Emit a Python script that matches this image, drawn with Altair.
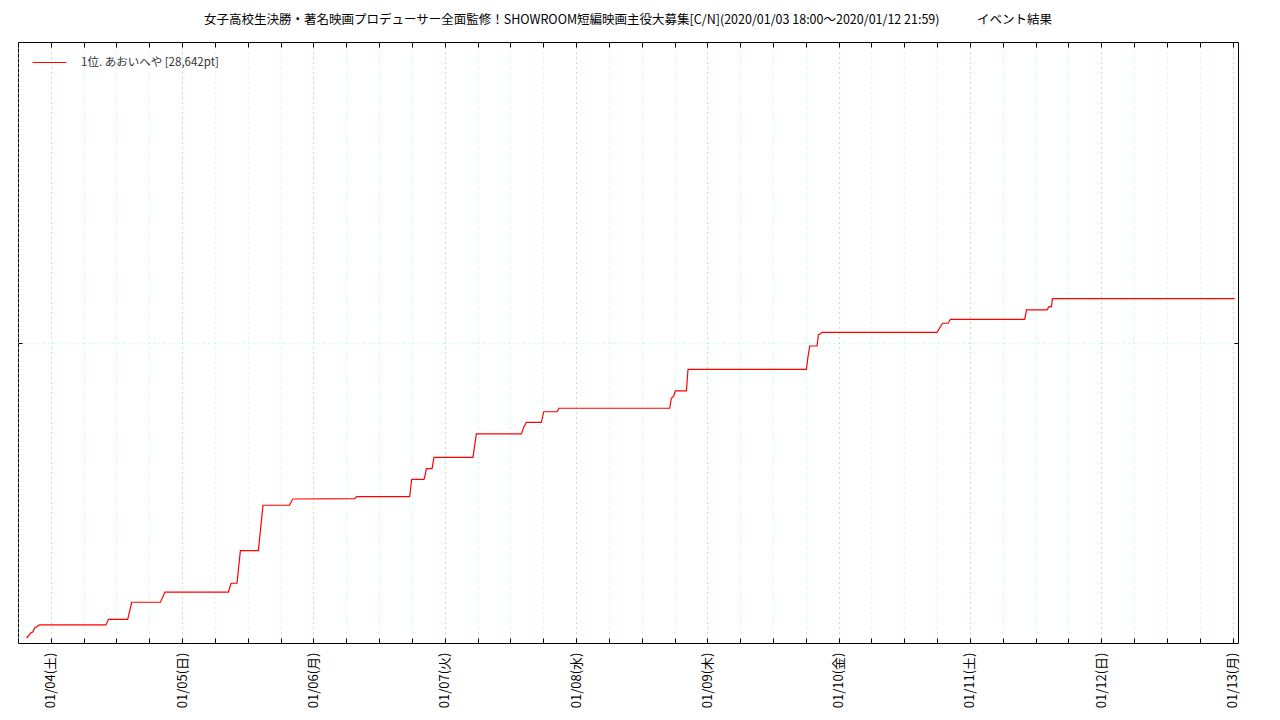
import altair as alt
import pandas as pd

# ---- data ----
times = [
    "2020-01-03T19:35:00", "2020-01-03T20:19:00", "2020-01-03T20:41:00", "2020-01-03T21:03:00",
    "2020-01-03T21:36:00", "2020-01-03T21:58:00",
    "2020-01-04T10:05:00", "2020-01-04T10:31:00", "2020-01-04T14:03:00", "2020-01-04T14:47:00",
    "2020-01-04T20:02:00", "2020-01-04T20:52:00",
    "2020-01-05T08:28:00", "2020-01-05T08:56:00", "2020-01-05T10:02:00", "2020-01-05T10:39:00",
    "2020-01-05T13:56:00", "2020-01-05T14:47:00", "2020-01-05T19:37:00", "2020-01-05T20:13:00",
    "2020-01-06T07:33:00", "2020-01-06T07:52:00", "2020-01-06T17:36:00", "2020-01-06T17:58:00",
    "2020-01-06T20:13:00", "2020-01-06T20:26:00", "2020-01-06T20:39:00", "2020-01-06T21:41:00",
    "2020-01-06T22:02:00",
    "2020-01-07T05:10:00", "2020-01-07T05:47:00", "2020-01-07T14:01:00", "2020-01-07T14:29:00",
    "2020-01-07T14:56:00", "2020-01-07T17:40:00", "2020-01-07T18:05:00", "2020-01-07T20:32:00",
    "2020-01-07T20:53:00",
    "2020-01-08T17:08:00", "2020-01-08T17:26:00", "2020-01-08T17:52:00", "2020-01-08T18:10:00",
    "2020-01-08T20:11:00", "2020-01-08T20:28:00",
    "2020-01-09T18:07:00", "2020-01-09T18:24:00", "2020-01-09T18:43:00", "2020-01-09T20:03:00",
    "2020-01-09T20:18:00", "2020-01-09T21:02:00",
    "2020-01-10T17:59:00", "2020-01-10T18:59:00", "2020-01-10T20:00:00", "2020-01-10T20:26:00",
    "2020-01-11T10:01:00", "2020-01-11T10:20:00", "2020-01-11T14:06:00", "2020-01-11T14:28:00",
    "2020-01-11T14:54:00", "2020-01-11T15:05:00",
    "2020-01-13T00:24:00",
]
points = [
    416, 830, 915, 1250, 1410, 1500,
    1500, 1970, 1970, 3390, 3390, 4240,
    4240, 4970, 4970, 7680, 7680, 11460, 11460, 11980,
    12010, 12170, 12170, 13620, 13620, 13980, 14500, 14500, 15450,
    15450, 17390, 17390, 18000, 18360, 18360, 19240, 19240, 19530,
    19530, 20360, 20550, 20970, 20970, 22770,
    22770, 23820, 24710, 24710, 25630, 25850,
    25850, 26600, 26600, 26930,
    26930, 27710, 27710, 27980, 27980, 28642,
    28642,
]
series_name = "1位. あおいへや [28,642pt]"
title_text = ("女子高校生決勝・著名映画プロデューサー全面監修！SHOWROOM短編映画主役大募集[C/N]"
              "(2020/01/03 18:00～2020/01/12 21:59)\u3000\u3000\u3000イベント結果")

tick_days = [3, 4, 5, 6, 7, 8, 9, 10, 11, 12, 13]
tick_hours = [0, 6, 12, 18]
y_ticks = [25000]
x_domain = [alt.DateTime(year=2020, month=1, date=3, hours=18),
            alt.DateTime(year=2020, month=1, date=13, hours=1)]
y_domain = [0, 50000]

FONT = "Noto Sans CJK JP"
GREEN = "#55ee55"
CYAN = "#77ffff"

x_ticks = [alt.DateTime(year=2020, month=1, date=d, hours=h)
           for d in tick_days for h in tick_hours
           if not (d == 3 and h < 18) and not (d == 13 and h > 0)]

df = pd.DataFrame({"time": times, "points": points, "series": series_name})

xscale = alt.Scale(domain=x_domain)
yscale = alt.Scale(domain=y_domain)
base = alt.Chart(df)

label_expr = ("hours(datum.value) === 0 ? timeFormat(datum.value, '%m/%d') + '(' + "
              "['日','月','火','水','木','金','土'][day(datum.value)] + ')' : ''")

grid = base.mark_line(opacity=0).encode(
    x=alt.X("time:T", scale=xscale, title=None,
            axis=alt.Axis(orient="bottom", values=x_ticks, grid=True,
                          gridColor={"condition": {"test": "hours(datum.value) === 0", "value": GREEN},
                                     "value": CYAN},
                          gridDash=[1, 4], gridWidth=1, ticks=False, labels=False, domain=False)),
    y=alt.Y("points:Q", scale=yscale, title=None,
            axis=alt.Axis(orient="left", values=y_ticks, grid=True, gridColor=CYAN,
                          gridDash=[1, 4], gridWidth=1, ticks=False, labels=False, domain=False)),
)

ticks_bl = base.mark_line(opacity=0).encode(
    x=alt.X("time:T", scale=xscale, title=None,
            axis=alt.Axis(orient="bottom", offset=-5, values=x_ticks, tickSize=5, tickColor="black",
                          tickWidth=1, grid=False, domain=False, labelExpr=label_expr,
                          labelAngle=270, labelAlign="right", labelBaseline="middle",
                          labelPadding=9, labelFont=FONT, labelFontSize=13, labelColor="black",
                          labelOverlap=False, labelFlush=False)),
    y=alt.Y("points:Q", scale=yscale, title=None,
            axis=alt.Axis(orient="left", offset=-4, values=y_ticks, tickSize=4, tickColor="black",
                          grid=False, domain=False, labels=False)),
)

ticks_tr = base.mark_line(opacity=0).encode(
    x=alt.X("time:T", scale=xscale, title=None,
            axis=alt.Axis(orient="top", offset=-5, values=x_ticks, tickSize=5, tickColor="black",
                          grid=False, domain=False, labels=False)),
    y=alt.Y("points:Q", scale=yscale, title=None,
            axis=alt.Axis(orient="right", offset=-4, values=y_ticks, tickSize=4, tickColor="black",
                          grid=False, domain=False, labels=False)),
)

line = base.mark_line(strokeWidth=1.2).encode(
    x=alt.X("time:T", scale=xscale, axis=None),
    y=alt.Y("points:Q", scale=yscale, axis=None),
    color=alt.Color("series:N", scale=alt.Scale(range=["#ff0000"]),
                    legend=alt.Legend(orient="none", legendX=14, legendY=3, title=None,
                                      symbolType="stroke", symbolSize=1156, symbolStrokeWidth=1,
                                      labelOffset=14, labelFont=FONT, labelFontSize=11.5,
                                      labelColor="#333333", padding=0)),
)

chart = (
    alt.layer(grid, ticks_bl, ticks_tr, line)
    .resolve_axis(x="independent", y="independent")
    .properties(
        width=1220, height=601,
        autosize=alt.AutoSizeParams(type="none"),
        padding={"left": 10, "top": 34, "right": 20, "bottom": 68},
        background="white",
        title=alt.Title(title_text, font=FONT, fontSize=12.5, fontWeight="normal",
                        anchor="middle", offset=15, color="black"),
    )
    .configure_view(stroke="black", strokeWidth=1)
)

chart.save("out.html", embed_options={"renderer": "svg", "actions": False})
